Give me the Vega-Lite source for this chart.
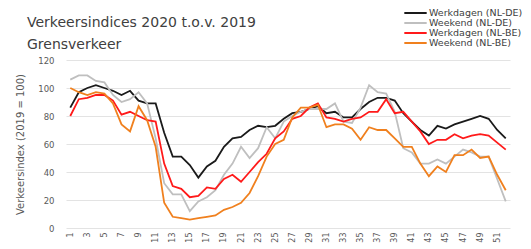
{
 "$schema": "https://vega.github.io/schema/vega-lite/v6.json",
 "width": 444, "height": 168,
 "autosize": "none",
 "padding": {"left": 66, "top": 60, "right": 21, "bottom": 21},
 "background": "white",
 "config": {"font": "DejaVu Sans", "view": {"stroke": null}},
 "title": {"text": ["Verkeersindices 2020 t.o.v. 2019", "Grensverkeer"], "anchor": "start", "frame": "group", "fontSize": 14, "font": "DejaVu Sans", "fontWeight": "normal", "color": "#404040", "lineHeight": 22, "dx": -39, "dy": 48},
 "data": {"values": [
  {"s":"Werkdagen (NL-DE)","w":1,"v":86},{"s":"Werkdagen (NL-DE)","w":2,"v":97},{"s":"Werkdagen (NL-DE)","w":3,"v":100},{"s":"Werkdagen (NL-DE)","w":4,"v":102},{"s":"Werkdagen (NL-DE)","w":5,"v":100},{"s":"Werkdagen (NL-DE)","w":6,"v":98},{"s":"Werkdagen (NL-DE)","w":7,"v":95},{"s":"Werkdagen (NL-DE)","w":8,"v":98},{"s":"Werkdagen (NL-DE)","w":9,"v":91},{"s":"Werkdagen (NL-DE)","w":10,"v":89},{"s":"Werkdagen (NL-DE)","w":11,"v":89},{"s":"Werkdagen (NL-DE)","w":12,"v":68},{"s":"Werkdagen (NL-DE)","w":13,"v":51},{"s":"Werkdagen (NL-DE)","w":14,"v":51},{"s":"Werkdagen (NL-DE)","w":15,"v":45},{"s":"Werkdagen (NL-DE)","w":16,"v":36},{"s":"Werkdagen (NL-DE)","w":17,"v":44},{"s":"Werkdagen (NL-DE)","w":18,"v":48},{"s":"Werkdagen (NL-DE)","w":19,"v":58},{"s":"Werkdagen (NL-DE)","w":20,"v":64},{"s":"Werkdagen (NL-DE)","w":21,"v":65},{"s":"Werkdagen (NL-DE)","w":22,"v":70},{"s":"Werkdagen (NL-DE)","w":23,"v":73},{"s":"Werkdagen (NL-DE)","w":24,"v":72},{"s":"Werkdagen (NL-DE)","w":25,"v":73},{"s":"Werkdagen (NL-DE)","w":26,"v":78},{"s":"Werkdagen (NL-DE)","w":27,"v":82},{"s":"Werkdagen (NL-DE)","w":28,"v":83},{"s":"Werkdagen (NL-DE)","w":29,"v":85},{"s":"Werkdagen (NL-DE)","w":30,"v":87},{"s":"Werkdagen (NL-DE)","w":31,"v":82},{"s":"Werkdagen (NL-DE)","w":32,"v":83},{"s":"Werkdagen (NL-DE)","w":33,"v":79},{"s":"Werkdagen (NL-DE)","w":34,"v":79},{"s":"Werkdagen (NL-DE)","w":35,"v":85},{"s":"Werkdagen (NL-DE)","w":36,"v":90},{"s":"Werkdagen (NL-DE)","w":37,"v":93},{"s":"Werkdagen (NL-DE)","w":38,"v":93},{"s":"Werkdagen (NL-DE)","w":39,"v":91},{"s":"Werkdagen (NL-DE)","w":40,"v":82},{"s":"Werkdagen (NL-DE)","w":41,"v":76},{"s":"Werkdagen (NL-DE)","w":42,"v":70},{"s":"Werkdagen (NL-DE)","w":43,"v":66},{"s":"Werkdagen (NL-DE)","w":44,"v":73},{"s":"Werkdagen (NL-DE)","w":45,"v":71},{"s":"Werkdagen (NL-DE)","w":46,"v":74},{"s":"Werkdagen (NL-DE)","w":47,"v":76},{"s":"Werkdagen (NL-DE)","w":48,"v":78},{"s":"Werkdagen (NL-DE)","w":49,"v":80},{"s":"Werkdagen (NL-DE)","w":50,"v":78},{"s":"Werkdagen (NL-DE)","w":51,"v":70},{"s":"Werkdagen (NL-DE)","w":52,"v":64},
  {"s":"Weekend (NL-DE)","w":1,"v":106},{"s":"Weekend (NL-DE)","w":2,"v":109},{"s":"Weekend (NL-DE)","w":3,"v":109},{"s":"Weekend (NL-DE)","w":4,"v":105},{"s":"Weekend (NL-DE)","w":5,"v":104},{"s":"Weekend (NL-DE)","w":6,"v":95},{"s":"Weekend (NL-DE)","w":7,"v":90},{"s":"Weekend (NL-DE)","w":8,"v":92},{"s":"Weekend (NL-DE)","w":9,"v":97},{"s":"Weekend (NL-DE)","w":10,"v":89},{"s":"Weekend (NL-DE)","w":11,"v":64},{"s":"Weekend (NL-DE)","w":12,"v":32},{"s":"Weekend (NL-DE)","w":13,"v":24},{"s":"Weekend (NL-DE)","w":14,"v":24},{"s":"Weekend (NL-DE)","w":15,"v":12},{"s":"Weekend (NL-DE)","w":16,"v":19},{"s":"Weekend (NL-DE)","w":17,"v":22},{"s":"Weekend (NL-DE)","w":18,"v":27},{"s":"Weekend (NL-DE)","w":19,"v":38},{"s":"Weekend (NL-DE)","w":20,"v":46},{"s":"Weekend (NL-DE)","w":21,"v":58},{"s":"Weekend (NL-DE)","w":22,"v":50},{"s":"Weekend (NL-DE)","w":23,"v":57},{"s":"Weekend (NL-DE)","w":24,"v":72},{"s":"Weekend (NL-DE)","w":25,"v":64},{"s":"Weekend (NL-DE)","w":26,"v":76},{"s":"Weekend (NL-DE)","w":27,"v":80},{"s":"Weekend (NL-DE)","w":28,"v":83},{"s":"Weekend (NL-DE)","w":29,"v":85},{"s":"Weekend (NL-DE)","w":30,"v":85},{"s":"Weekend (NL-DE)","w":31,"v":85},{"s":"Weekend (NL-DE)","w":32,"v":89},{"s":"Weekend (NL-DE)","w":33,"v":76},{"s":"Weekend (NL-DE)","w":34,"v":75},{"s":"Weekend (NL-DE)","w":35,"v":86},{"s":"Weekend (NL-DE)","w":36,"v":102},{"s":"Weekend (NL-DE)","w":37,"v":97},{"s":"Weekend (NL-DE)","w":38,"v":96},{"s":"Weekend (NL-DE)","w":39,"v":83},{"s":"Weekend (NL-DE)","w":40,"v":57},{"s":"Weekend (NL-DE)","w":41,"v":54},{"s":"Weekend (NL-DE)","w":42,"v":46},{"s":"Weekend (NL-DE)","w":43,"v":46},{"s":"Weekend (NL-DE)","w":44,"v":49},{"s":"Weekend (NL-DE)","w":45,"v":46},{"s":"Weekend (NL-DE)","w":46,"v":51},{"s":"Weekend (NL-DE)","w":47,"v":56},{"s":"Weekend (NL-DE)","w":48,"v":54},{"s":"Weekend (NL-DE)","w":49,"v":51},{"s":"Weekend (NL-DE)","w":50,"v":51},{"s":"Weekend (NL-DE)","w":51,"v":35},{"s":"Weekend (NL-DE)","w":52,"v":19},
  {"s":"Werkdagen (NL-BE)","w":1,"v":80},{"s":"Werkdagen (NL-BE)","w":2,"v":92},{"s":"Werkdagen (NL-BE)","w":3,"v":93},{"s":"Werkdagen (NL-BE)","w":4,"v":95},{"s":"Werkdagen (NL-BE)","w":5,"v":95},{"s":"Werkdagen (NL-BE)","w":6,"v":91},{"s":"Werkdagen (NL-BE)","w":7,"v":81},{"s":"Werkdagen (NL-BE)","w":8,"v":83},{"s":"Werkdagen (NL-BE)","w":9,"v":80},{"s":"Werkdagen (NL-BE)","w":10,"v":77},{"s":"Werkdagen (NL-BE)","w":11,"v":76},{"s":"Werkdagen (NL-BE)","w":12,"v":46},{"s":"Werkdagen (NL-BE)","w":13,"v":30},{"s":"Werkdagen (NL-BE)","w":14,"v":28},{"s":"Werkdagen (NL-BE)","w":15,"v":22},{"s":"Werkdagen (NL-BE)","w":16,"v":23},{"s":"Werkdagen (NL-BE)","w":17,"v":29},{"s":"Werkdagen (NL-BE)","w":18,"v":28},{"s":"Werkdagen (NL-BE)","w":19,"v":35},{"s":"Werkdagen (NL-BE)","w":20,"v":38},{"s":"Werkdagen (NL-BE)","w":21,"v":33},{"s":"Werkdagen (NL-BE)","w":22,"v":40},{"s":"Werkdagen (NL-BE)","w":23,"v":47},{"s":"Werkdagen (NL-BE)","w":24,"v":53},{"s":"Werkdagen (NL-BE)","w":25,"v":64},{"s":"Werkdagen (NL-BE)","w":26,"v":69},{"s":"Werkdagen (NL-BE)","w":27,"v":78},{"s":"Werkdagen (NL-BE)","w":28,"v":80},{"s":"Werkdagen (NL-BE)","w":29,"v":86},{"s":"Werkdagen (NL-BE)","w":30,"v":89},{"s":"Werkdagen (NL-BE)","w":31,"v":79},{"s":"Werkdagen (NL-BE)","w":32,"v":78},{"s":"Werkdagen (NL-BE)","w":33,"v":76},{"s":"Werkdagen (NL-BE)","w":34,"v":78},{"s":"Werkdagen (NL-BE)","w":35,"v":79},{"s":"Werkdagen (NL-BE)","w":36,"v":83},{"s":"Werkdagen (NL-BE)","w":37,"v":83},{"s":"Werkdagen (NL-BE)","w":38,"v":92},{"s":"Werkdagen (NL-BE)","w":39,"v":82},{"s":"Werkdagen (NL-BE)","w":40,"v":83},{"s":"Werkdagen (NL-BE)","w":41,"v":76},{"s":"Werkdagen (NL-BE)","w":42,"v":69},{"s":"Werkdagen (NL-BE)","w":43,"v":60},{"s":"Werkdagen (NL-BE)","w":44,"v":63},{"s":"Werkdagen (NL-BE)","w":45,"v":63},{"s":"Werkdagen (NL-BE)","w":46,"v":67},{"s":"Werkdagen (NL-BE)","w":47,"v":64},{"s":"Werkdagen (NL-BE)","w":48,"v":66},{"s":"Werkdagen (NL-BE)","w":49,"v":67},{"s":"Werkdagen (NL-BE)","w":50,"v":66},{"s":"Werkdagen (NL-BE)","w":51,"v":61},{"s":"Werkdagen (NL-BE)","w":52,"v":56},
  {"s":"Weekend (NL-BE)","w":1,"v":100},{"s":"Weekend (NL-BE)","w":2,"v":97},{"s":"Weekend (NL-BE)","w":3,"v":95},{"s":"Weekend (NL-BE)","w":4,"v":97},{"s":"Weekend (NL-BE)","w":5,"v":96},{"s":"Weekend (NL-BE)","w":6,"v":89},{"s":"Weekend (NL-BE)","w":7,"v":74},{"s":"Weekend (NL-BE)","w":8,"v":69},{"s":"Weekend (NL-BE)","w":9,"v":87},{"s":"Weekend (NL-BE)","w":10,"v":77},{"s":"Weekend (NL-BE)","w":11,"v":58},{"s":"Weekend (NL-BE)","w":12,"v":18},{"s":"Weekend (NL-BE)","w":13,"v":8},{"s":"Weekend (NL-BE)","w":14,"v":7},{"s":"Weekend (NL-BE)","w":15,"v":6},{"s":"Weekend (NL-BE)","w":16,"v":7},{"s":"Weekend (NL-BE)","w":17,"v":8},{"s":"Weekend (NL-BE)","w":18,"v":9},{"s":"Weekend (NL-BE)","w":19,"v":13},{"s":"Weekend (NL-BE)","w":20,"v":15},{"s":"Weekend (NL-BE)","w":21,"v":18},{"s":"Weekend (NL-BE)","w":22,"v":25},{"s":"Weekend (NL-BE)","w":23,"v":37},{"s":"Weekend (NL-BE)","w":24,"v":51},{"s":"Weekend (NL-BE)","w":25,"v":60},{"s":"Weekend (NL-BE)","w":26,"v":63},{"s":"Weekend (NL-BE)","w":27,"v":79},{"s":"Weekend (NL-BE)","w":28,"v":86},{"s":"Weekend (NL-BE)","w":29,"v":86},{"s":"Weekend (NL-BE)","w":30,"v":88},{"s":"Weekend (NL-BE)","w":31,"v":72},{"s":"Weekend (NL-BE)","w":32,"v":74},{"s":"Weekend (NL-BE)","w":33,"v":74},{"s":"Weekend (NL-BE)","w":34,"v":71},{"s":"Weekend (NL-BE)","w":35,"v":63},{"s":"Weekend (NL-BE)","w":36,"v":72},{"s":"Weekend (NL-BE)","w":37,"v":70},{"s":"Weekend (NL-BE)","w":38,"v":70},{"s":"Weekend (NL-BE)","w":39,"v":64},{"s":"Weekend (NL-BE)","w":40,"v":58},{"s":"Weekend (NL-BE)","w":41,"v":58},{"s":"Weekend (NL-BE)","w":42,"v":46},{"s":"Weekend (NL-BE)","w":43,"v":37},{"s":"Weekend (NL-BE)","w":44,"v":44},{"s":"Weekend (NL-BE)","w":45,"v":40},{"s":"Weekend (NL-BE)","w":46,"v":52},{"s":"Weekend (NL-BE)","w":47,"v":52},{"s":"Weekend (NL-BE)","w":48,"v":56},{"s":"Weekend (NL-BE)","w":49,"v":50},{"s":"Weekend (NL-BE)","w":50,"v":51},{"s":"Weekend (NL-BE)","w":51,"v":38},{"s":"Weekend (NL-BE)","w":52,"v":27}
 ]},
 "mark": {"type": "line", "strokeWidth": 1.8},
 "encoding": {
  "x": {"field": "w", "type": "ordinal", "sort": "ascending", "scale": {"type": "point", "padding": 0.5},
        "axis": {"values": [1,3,5,7,9,11,13,15,17,19,21,23,25,27,29,31,33,35,37,39,41,43,45,47,49,51], "labelAngle": 270, "labelFontSize": 8, "labelColor": "#595959", "domain": false, "ticks": false, "grid": false, "title": null, "labelPadding": 4}},
  "y": {"field": "v", "type": "quantitative", "scale": {"domain": [0, 120], "nice": false},
        "axis": {"values": [0,20,40,60,80,100,120], "grid": true, "gridColor": "#e3e3e3", "domain": false, "ticks": false, "labelFontSize": 8.5, "labelColor": "#595959", "labelPadding": 12, "title": "Verkeersindex (2019 = 100)", "titleFontSize": 10, "titleFontWeight": "normal", "titleColor": "#595959", "titlePadding": 12}},
  "color": {"field": "s", "type": "nominal",
        "scale": {"domain": ["Werkdagen (NL-DE)", "Weekend (NL-DE)", "Werkdagen (NL-BE)", "Weekend (NL-BE)"], "range": ["#1a1a1a", "#bfbfbf", "#ff1a1a", "#f0801e"]},
        "legend": {"title": null, "orient": "none", "legendX": 337, "legendY": -52, "symbolType": "stroke", "symbolSize": 500, "symbolStrokeWidth": 2, "labelFontSize": 9.5, "labelColor": "#404040", "clipHeight": 10, "rowPadding": 0, "labelOffset": 1}}
 }
}
